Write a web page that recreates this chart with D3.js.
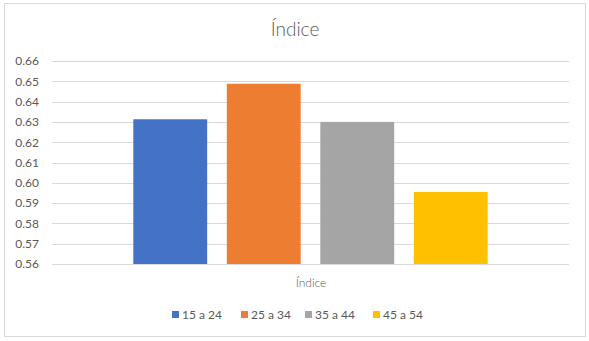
<!DOCTYPE html>
<html>
<head>
<meta charset="utf-8">
<script src="https://cdn.jsdelivr.net/npm/d3@7"></script>
<style>
  body { margin: 0; background: #fff; }
  text { font-family: Lato, "Noto Sans", sans-serif; fill: #595959; }
</style>
</head>
<body>
<svg width="589" height="341"></svg>
<script>
// Data
const series = ["15 a 24", "25 a 34", "35 a 44", "45 a 54"];
const values = [0.6313, 0.6488, 0.630, 0.5955];
const colors = ["#4472C4", "#ED7D31", "#A5A5A5", "#FFC000"];
const ticks = [0.56, 0.57, 0.58, 0.59, 0.60, 0.61, 0.62, 0.63, 0.64, 0.65, 0.66];
const category = "Índice";

const svg = d3.select("svg");

// chart border
svg.append("rect")
  .attr("x", 4.5).attr("y", 3.5)
  .attr("width", 581).attr("height", 333)
  .attr("fill", "#fff")
  .attr("stroke", "#d9d9d9");

const plotLeft = 52, plotRight = 569, plotTop = 61, plotBottom = 264;

const y = d3.scaleLinear().domain([0.56, 0.66]).range([plotBottom, plotTop]);

// category band, then bars inside it
const xCat = d3.scaleBand().domain([category]).range([plotLeft, plotRight]).paddingInner(0).paddingOuter(0.3);
const xBar = d3.scaleBand().domain(series).range([133.3, 487.7]).paddingInner(0.21);

// gridlines
svg.append("g")
  .selectAll("line")
  .data(ticks)
  .enter()
  .append("line")
  .attr("x1", plotLeft).attr("x2", plotRight)
  .attr("y1", d => Math.round(y(d)) + 0.5)
  .attr("y2", d => Math.round(y(d)) + 0.5)
  .attr("stroke", "#d9d9d9")
  .attr("stroke-width", 1);

// y axis labels
const yAxis = svg.append("g")
  .attr("transform", `translate(${plotLeft},0)`)
  .call(d3.axisLeft(y).tickValues(ticks).tickFormat(d3.format(".2f")).tickSize(0).tickPadding(13));
yAxis.select(".domain").remove();
yAxis.selectAll("text")
  .style("font-size", "12px")
  .style("fill", "#595959")
  .style("font-family", "Lato, 'Noto Sans', sans-serif");

// bars
svg.append("g")
  .selectAll("rect")
  .data(values)
  .enter()
  .append("rect")
  .attr("x", (d, i) => xBar(series[i]))
  .attr("width", xBar.bandwidth())
  .attr("y", d => y(d))
  .attr("height", d => plotBottom - y(d))
  .attr("fill", (d, i) => colors[i]);

// title
svg.append("text")
  .attr("x", 295).attr("y", 36)
  .attr("text-anchor", "middle")
  .style("font-size", "19px")
  .style("font-weight", "300")
  .text("Índice");

// category label
svg.append("text")
  .attr("x", xCat(category) + xCat.bandwidth() / 2 + 0.5).attr("y", 287)
  .attr("text-anchor", "middle")
  .style("font-size", "12px")
  .style("font-weight", "300")
  .text(category);

// legend
const legendX = [172, 241, 305, 373];
const legend = svg.append("g")
  .selectAll("g")
  .data(series)
  .enter()
  .append("g")
  .attr("transform", (d, i) => `translate(${legendX[i]},0)`);
legend.append("rect")
  .attr("x", 0).attr("y", 311)
  .attr("width", 7).attr("height", 7)
  .attr("fill", (d, i) => colors[i]);
legend.append("text")
  .attr("x", 10).attr("y", 319)
  .style("font-size", "12px")
  .text(d => d);
</script>
</body>
</html>
